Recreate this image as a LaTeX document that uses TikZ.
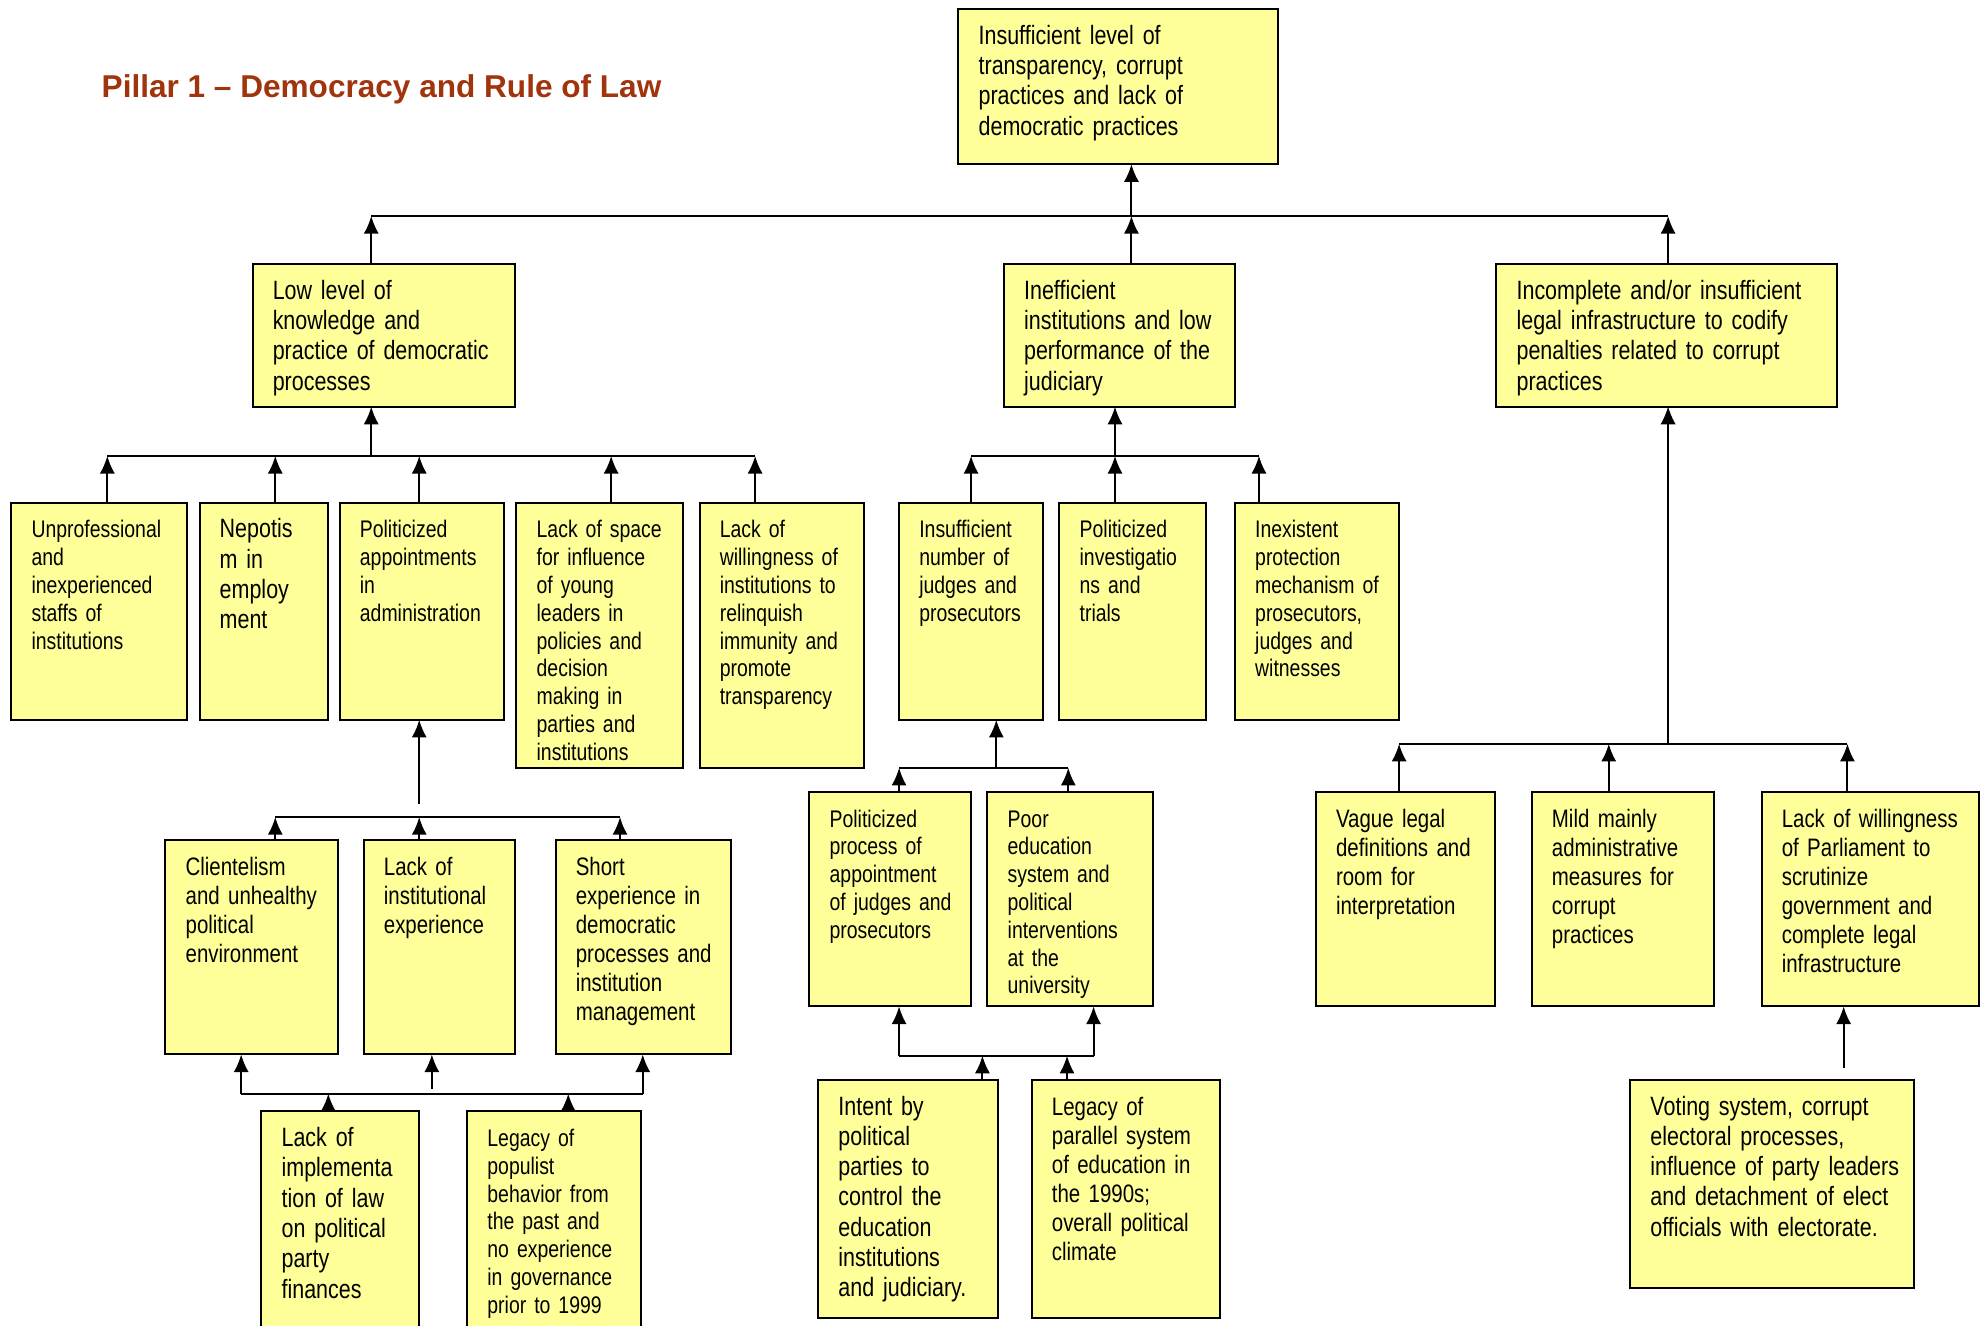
\documentclass[tikz,border=0pt]{standalone}
\usepackage{fontspec}
\setmainfont{Liberation Sans}[FakeStretch=0.81, WordSpace=0.8]
\newfontfamily\titlefont{Liberation Sans}
\usepackage{tikz}
\usetikzlibrary{arrows.meta}
\usepackage{color}
\definecolor{boxyellow}{RGB}{255,255,153}
\definecolor{pillarred}{RGB}{160,52,12}
\hyphenpenalty=10000
\tikzstyle{cause} = [rectangle, draw=black, line width=1.6pt, fill=boxyellow, anchor=north west, outer sep=0pt, inner xsep=16pt, inner ysep=0pt, text height=28pt, execute at begin node={\rightskip=0pt plus 1fil minus 40pt\relax}]
\tikzstyle{bigtext} = [font=\fontsize{21}{24}\selectfont]
\tikzstyle{midtext} = [font=\fontsize{20}{23}\selectfont]
\tikzstyle{smalltext} = [font=\fontsize{19}{22}\selectfont]
\tikzstyle{link} = [line width=1.6pt]
\tikzstyle{arrow} = [line width=1.6pt, -{Latex[length=14pt,width=12pt]}]

\begin{document}
\begin{tikzpicture}[x=1pt, y=-1pt]
\useasboundingbox (0,0) rectangle (1568,1050);

\node (title) [anchor=base west, text=pillarred, font=\titlefont\bfseries\fontsize{25}{30}\selectfont] at (77,77) {Pillar 1 – Democracy and Rule of Law};

% top of the tree
\node (root) [cause, bigtext, text width=253-32, text depth=123-28] at (759,7) {Insufficient level of\\transparency, corrupt\\practices and lack of\\democratic practices};

\node (know) [cause, bigtext, text width=208-32, text depth=113-28] at (200,209) {Low level of\\knowledge and\\practice of democratic\\processes};
\node (judic) [cause, bigtext, text width=183-32, text depth=113-28] at (795,209) {Inefficient\\institutions and low\\performance of the\\judiciary};
\node (legal) [cause, bigtext, text width=270-32, text depth=113-28] at (1185,209) {Incomplete and/or insufficient\\legal infrastructure to codify\\penalties related to corrupt\\practices};

% causes of low knowledge
\node (know1) [cause, smalltext, text width=139-32, text depth=172-28] at (9,398) {Unprofessional\\and\\inexperienced\\staffs of\\institutions};
\node (know2) [cause, bigtext, text width=102-32, text depth=172-28] at (158,398) {Nepotis\\m in\\employ\\ment};
\node (know3) [cause, smalltext, text width=130-32, text depth=172-28] at (269,398) {Politicized\\appointments\\in\\administration};
\node (know4) [cause, smalltext, text width=132-32, text depth=210-28] at (409,398) {Lack of space\\for influence\\of young\\leaders in\\policies and\\decision\\making in\\parties and\\institutions};
\node (know5) [cause, smalltext, text width=130-32, text depth=210-28] at (554,398) {Lack of\\willingness of\\institutions to\\relinquish\\immunity and\\promote\\transparency};

% causes of weak judiciary
\node (judic1) [cause, smalltext, text width=114-32, text depth=172-28] at (712,398) {Insufficient\\number of\\judges and\\prosecutors};
\node (judic2) [cause, smalltext, text width=116-32, text depth=172-28] at (839,398) {Politicized\\investigatio\\ns and\\trials};
\node (judic3) [cause, smalltext, text width=130-32, text depth=172-28] at (978,398) {Inexistent\\protection\\mechanism of\\prosecutors,\\judges and\\witnesses};

% causes of weak legal infrastructure
\node (legal1) [cause, midtext, text width=142-32, text depth=170-28] at (1042,627) {Vague legal\\definitions and\\room for\\interpretation};
\node (legal2) [cause, midtext, text width=144-32, text depth=170-28] at (1213,627) {Mild mainly\\administrative\\measures for\\corrupt\\practices};
\node (legal3) [cause, midtext, text width=172-32, text depth=170-28] at (1395,627) {Lack of willingness\\of Parliament to\\scrutinize\\government and\\complete legal\\infrastructure};
\node (vote) [cause, bigtext, text width=225-32, text depth=165-28] at (1291,855) {Voting system, corrupt\\electoral processes,\\influence of party leaders\\and detachment of elect\\officials with electorate.};

% causes of politicized appointments
\node (appt1) [cause, midtext, text width=137-32, text depth=170-28] at (131,665) {Clientelism\\and unhealthy\\political\\environment};
\node (appt2) [cause, midtext, text width=120-32, text depth=170-28] at (288,665) {Lack of\\institutional\\experience};
\node (appt3) [cause, midtext, text width=139-32, text depth=170-28] at (440,665) {Short\\experience in\\democratic\\processes and\\institution\\management};
\node (party1) [cause, bigtext, text width=125-32, text depth=182-28] at (207,880) {Lack of\\implementa\\tion of law\\on political\\party\\finances};
\node (party2) [cause, smalltext, text width=138-32, text depth=182-28] at (370,880) {Legacy of\\populist\\behavior from\\the past and\\no experience\\in governance\\prior to 1999};

% causes of too few judges
\node (judge1) [cause, smalltext, text width=128-32, text depth=170-28] at (641,627) {Politicized\\process of\\appointment\\of judges and\\prosecutors};
\node (judge2) [cause, smalltext, text width=131-32, text depth=170-28] at (782,627) {Poor\\education\\system and\\political\\interventions\\at the\\university};
\node (educ1) [cause, bigtext, text width=142-32, text depth=189-28] at (648,855) {Intent by\\political\\parties to\\control the\\education\\institutions\\and judiciary.};
\node (educ2) [cause, midtext, text width=149-32, text depth=189-28] at (817,855) {Legacy of\\parallel system\\of education in\\the 1990s;\\overall political\\climate};

% junctions
\coordinate (jknow) at (294,171);
\coordinate (jjudic) at (896,171);
\coordinate (jlegal) at (1321,171);

\coordinate (jk) at (294,361);
\coordinate (jk1) at (85,361);
\coordinate (jk2) at (218,361);
\coordinate (jk3) at (332,361);
\coordinate (jk4) at (484,361);
\coordinate (jk5) at (598,361);

\coordinate (jj1) at (769,361);
\coordinate (jj2) at (883,361);
\coordinate (jj3) at (997,361);

\coordinate (jl) at (1321,589);
\coordinate (jl1) at (1108,589);
\coordinate (jl2) at (1274,589);
\coordinate (jl3) at (1463,589);
\coordinate (jv) at (1460,846);

\coordinate (ja) at (332,637);
\coordinate (ja1) at (218,647);
\coordinate (ja2) at (332,647);
\coordinate (ja3) at (491,647);

\coordinate (jp1) at (191,866);
\coordinate (jp2) at (342,862);
\coordinate (jp3) at (509,866);
\coordinate (jq1) at (260,866);
\coordinate (jq2) at (450,866);

\coordinate (jg) at (789,608);
\coordinate (jg1) at (712,608);
\coordinate (jg2) at (846,608);

\coordinate (je1) at (712,836);
\coordinate (je2) at (866,836);
\coordinate (jf1) at (778,836);
\coordinate (jf2) at (845,836);

% level 1 -> root
\draw [link] (jknow) -- (jlegal);
\draw [arrow] (know.north -| jknow) -- (jknow);
\draw [arrow] (judic.north -| jjudic) -- (jjudic);
\draw [arrow] (legal.north -| jlegal) -- (jlegal);
\draw [arrow] (jjudic) -- (root.south -| jjudic);

% -> low knowledge
\draw [link] (jk1) -- (jk5);
\draw [arrow] (jk) -- (know.south -| jk);
\draw [arrow] (know1.north -| jk1) -- (jk1);
\draw [arrow] (know2.north -| jk2) -- (jk2);
\draw [arrow] (know3.north -| jk3) -- (jk3);
\draw [arrow] (know4.north -| jk4) -- (jk4);
\draw [arrow] (know5.north -| jk5) -- (jk5);

% -> judiciary
\draw [link] (jj1) -- (jj3);
\draw [arrow] (jj2) -- (judic.south -| jj2);
\draw [arrow] (judic1.north -| jj1) -- (jj1);
\draw [arrow] (judic2.north -| jj2) -- (jj2);
\draw [arrow] (judic3.north -| jj3) -- (jj3);

% -> legal infrastructure
\draw [link] (jl1) -- (jl3);
\draw [arrow, line width=1pt] (jl) -- (legal.south -| jl);
\draw [arrow] (legal1.north -| jl1) -- (jl1);
\draw [arrow] (legal2.north -| jl2) -- (jl2);
\draw [arrow] (legal3.north -| jl3) -- (jl3);
\draw [arrow] (jv) -- (legal3.south -| jv);

% -> politicized appointments
\draw [link] (ja1) -- (ja3);
\draw [arrow] (ja) -- (know3.south -| ja);
\draw [arrow] (appt1.north -| ja1) -- (ja1);
\draw [arrow] (appt2.north -| ja2) -- (ja2);
\draw [arrow] (appt3.north -| ja3) -- (ja3);

\draw [link] (jp1) -- (jp3);
\draw [arrow] (jp1) -- (appt1.south -| jp1);
\draw [arrow] (jp2) -- (appt2.south -| jp2);
\draw [arrow] (jp3) -- (appt3.south -| jp3);
\draw [arrow] (party1.north -| jq1) -- (jq1);
\draw [arrow] (party2.north -| jq2) -- (jq2);

% -> too few judges
\draw [link] (jg1) -- (jg2);
\draw [arrow] (jg) -- (judic1.south -| jg);
\draw [arrow] (judge1.north -| jg1) -- (jg1);
\draw [arrow] (judge2.north -| jg2) -- (jg2);

\draw [link] (je1) -- (je2);
\draw [arrow] (je1) -- (judge1.south -| je1);
\draw [arrow] (je2) -- (judge2.south -| je2);
\draw [arrow] (educ1.north -| jf1) -- (jf1);
\draw [arrow] (educ2.north -| jf2) -- (jf2);

\end{tikzpicture}
\end{document}
